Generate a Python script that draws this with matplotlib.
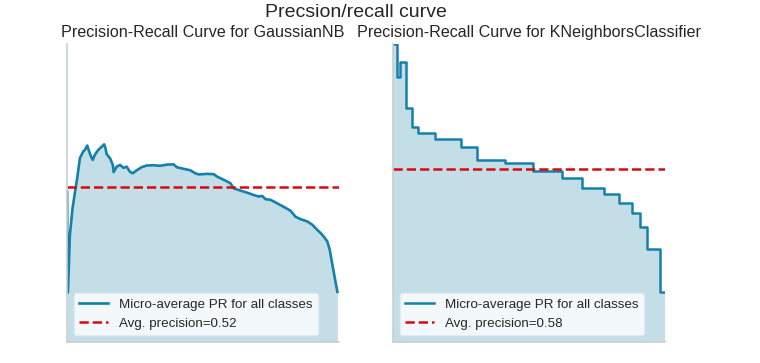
import matplotlib
matplotlib.use("Agg")
import matplotlib.pyplot as plt

plt.rcParams["font.family"] = ["Liberation Sans", "DejaVu Sans"]

# GaussianNB micro-average PR curve
nb_recall = [0.001, 0.002, 0.004, 0.011, 0.021, 0.030, 0.038, 0.048, 0.060, 0.066,
             0.075, 0.082, 0.089, 0.095, 0.103, 0.115, 0.128, 0.137, 0.142, 0.146,
             0.159, 0.169, 0.172, 0.183, 0.196, 0.208, 0.220, 0.232, 0.242, 0.257,
             0.276, 0.294, 0.318, 0.343, 0.368, 0.392, 0.405, 0.429, 0.454, 0.472,
             0.485, 0.515, 0.540, 0.552, 0.577, 0.601, 0.614, 0.638, 0.663, 0.687,
             0.706, 0.718, 0.731, 0.749, 0.774, 0.798, 0.823, 0.841, 0.860, 0.885,
             0.903, 0.921, 0.934, 0.946, 0.958, 0.967, 0.974, 0.980, 0.989, 0.995]
nb_precision = [0.504, 0.164, 0.169, 0.359, 0.450, 0.504, 0.550, 0.617, 0.639, 0.644,
                0.659, 0.639, 0.622, 0.611, 0.628, 0.644, 0.655, 0.663, 0.650, 0.631,
                0.616, 0.594, 0.570, 0.588, 0.594, 0.584, 0.588, 0.571, 0.566, 0.576,
                0.587, 0.592, 0.593, 0.591, 0.595, 0.596, 0.586, 0.581, 0.576, 0.566,
                0.562, 0.564, 0.563, 0.555, 0.544, 0.533, 0.515, 0.508, 0.501, 0.493,
                0.488, 0.490, 0.479, 0.477, 0.465, 0.453, 0.440, 0.420, 0.412, 0.404,
                0.393, 0.376, 0.365, 0.352, 0.337, 0.309, 0.272, 0.242, 0.197, 0.168]
nb_avg_precision = 0.52

# KNeighborsClassifier micro-average PR curve
knn_recall = [0.0, 0.0136, 0.0256, 0.0476, 0.0685, 0.0927, 0.1527, 0.249, 0.310, 0.410,
              0.515, 0.621, 0.695, 0.775, 0.832, 0.878, 0.908, 0.935, 0.982, 1.0]
knn_precision = [1.0, 0.890, 0.939, 0.786, 0.720, 0.702, 0.682, 0.653, 0.611, 0.599,
                 0.574, 0.549, 0.518, 0.497, 0.465, 0.432, 0.387, 0.313, 0.169, 0.169]
knn_avg_precision = 0.58

line_color = "#1580a8"
fill_color = "#c4dee8"
red = "#d8090f"
text_color = "#262626"


def pr_axes(ax, recall, precision, avg, title, step):
    if step:
        ax.fill_between(recall, precision, step="post", color=fill_color, lw=0)
        ax.step(recall, precision, where="post", color=line_color, lw=1.8,
                label="Micro-average PR for all classes")
    else:
        ax.fill_between(recall, precision, color=fill_color, lw=0)
        ax.plot(recall, precision, color=line_color, lw=1.9,
                label="Micro-average PR for all classes")
    ax.axhline(avg, color=red, ls="--", lw=1.8,
               label="Avg. precision={:0.2f}".format(avg))
    ax.set_xlim(0, 1)
    ax.set_ylim(0, 1)
    ax.set_xticks([])
    ax.set_yticks([])
    for s in ["top", "right"]:
        ax.spines[s].set_visible(False)
    for s in ["left", "bottom"]:
        ax.spines[s].set_color("#c8cfd2")
        ax.spines[s].set_linewidth(1.2)
    ax.set_title(title, fontsize=11.6, color=text_color, pad=5)
    leg = ax.legend(loc="lower left", fontsize=9.6, frameon=True, framealpha=0.8,
                    borderaxespad=0.5, handlelength=2.2)
    leg.get_frame().set_edgecolor("#e6eef1")
    leg.get_frame().set_facecolor("white")
    for t in leg.get_texts():
        t.set_color(text_color)


fig, ax = plt.subplots(1, 2, figsize=(7.6, 3.63), dpi=100)
fig.subplots_adjust(left=0.088, right=0.875, bottom=0.058, top=0.879, wspace=0.2)

pr_axes(ax[0], nb_recall, nb_precision, nb_avg_precision,
        "Precision-Recall Curve for GaussianNB", step=False)
pr_axes(ax[1], knn_recall, knn_precision, knn_avg_precision,
        "Precision-Recall Curve for KNeighborsClassifier", step=True)

fig.suptitle("Precsion/recall curve", fontsize=14, color=text_color, x=0.468, y=0.99)

fig.savefig("out.png", dpi=100)
